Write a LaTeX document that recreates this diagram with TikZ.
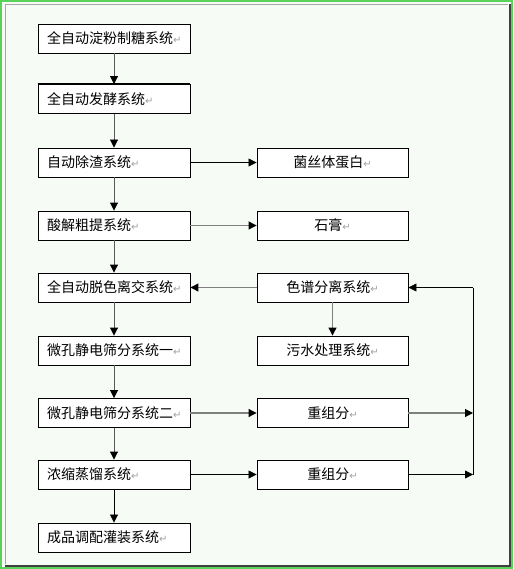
\documentclass[tikz,border=0pt]{standalone}
\usepackage{fontspec}
\newfontfamily\cjk{Noto Sans CJK SC}
\newfontfamily\dejavu{DejaVu Sans}
\usetikzlibrary{arrows.meta}
\definecolor{bgmint}{HTML}{F6FBF6}
\definecolor{framegreen}{HTML}{5AD25A}
\definecolor{linegray}{HTML}{808080}
\definecolor{vgray}{HTML}{5A5A5A}
\definecolor{retgray}{HTML}{A0A0A0}
\newcommand{\rmk}{{\dejavu\fontsize{10}{10}\selectfont\textcolor{retgray}{↵}}}
\tikzset{
  lbox/.style={draw=black, line width=0.9pt, fill=white, minimum width=152pt, minimum height=29pt, inner sep=0pt, text width=134pt, align=left, font=\cjk\fontsize{14}{16}\selectfont},
  rbox/.style={draw=black, line width=0.9pt, fill=white, minimum width=151pt, minimum height=29pt, inner sep=0pt, text width=140pt, align=center, font=\cjk\fontsize{14}{16}\selectfont},
  garrow/.style={draw=vgray, line width=0.9pt, -{Triangle[length=8pt,width=8pt,color=black]}},
  grarrow/.style={draw=linegray, line width=1.1pt, -{Triangle[length=8pt,width=8pt,color=black]}},
  barrow/.style={draw=black, line width=0.8pt, -{Triangle[length=8pt,width=8pt]}},
  bline/.style={draw=black, line width=0.8pt},
}
\begin{document}
\begin{tikzpicture}[x=1pt,y=-1pt]
\useasboundingbox (0,0) rectangle (513,569);
% frame
\fill[framegreen] (0,0) rectangle (513,569);
\fill[bgmint] (2,2) rectangle (511,567);
\draw[color=gray!70, line width=0.8pt] (5,564) -- (5,4) -- (508,4);
\draw[color=black!75, line width=2pt] (5,565.5) -- (509.5,565.5) -- (509.5,4);
% left column
\node[lbox] (a1) at (114,38.5) {全自动淀粉制糖系统\rmk};
\node[lbox] (a2) at (114,99) {全自动发酵系统\rmk};
\draw[black, line width=2pt] (a2.north west) -- (a2.north east);
\node[lbox] (a3) at (114,162.5) {自动除渣系统\rmk};
\node[lbox] (a4) at (114,225.5) {酸解粗提系统\rmk};
\node[lbox] (a5) at (114,287.5) {全自动脱色离交系统\rmk};
\node[lbox] (a6) at (114,350.5) {微孔静电筛分系统一\rmk};
\node[lbox] (a7) at (114,413) {微孔静电筛分系统二\rmk};
\node[lbox] (a8) at (114,474.5) {浓缩蒸馏系统\rmk};
\node[lbox] (a9) at (114,537.5) {成品调配灌装系统\rmk};
% right column
\node[rbox] (b3) at (332.5,162.5) {菌丝体蛋白\rmk};
\node[rbox] (b4) at (332.5,225.5) {石膏\rmk};
\node[rbox] (b5) at (332.5,287.5) {色谱分离系统\rmk};
\node[rbox] (b6) at (332.5,350.5) {污水处理系统\rmk};
\node[rbox] (b7) at (332.5,413) {重组分\rmk};
\node[rbox] (b8) at (332.5,474.5) {重组分\rmk};
\coordinate (r7) at (473,413);
\coordinate (r8) at (473,474.5);
\coordinate (r5) at (473,287.5);
% vertical arrows
\draw[garrow] (a1) -- (a2);
\draw[garrow] (a2) -- (a3);
\draw[garrow] (a3) -- (a4);
\draw[garrow] (a4) -- (a5);
\draw[garrow] (a5) -- (a6);
\draw[garrow] (a6) -- (a7);
\draw[garrow] (a7) -- (a8);
\draw[barrow] (a8) -- (a9);
% horizontal arrows
\draw[barrow] (a3) -- (b3);
\draw[grarrow] (a4) -- (b4);
\draw[grarrow] (b5) -- (a5);
\draw[grarrow] (b5) -- (b6);
\draw[grarrow] (a7) -- (b7);
\draw[grarrow] (b7) -- (r7);
\draw[barrow] (a8) -- (b8);
\draw[barrow] (b8) -- (r8);
\draw[bline] (r8) -- (r5);
\draw[barrow] (r5) -- (b5);
\end{tikzpicture}
\end{document}
